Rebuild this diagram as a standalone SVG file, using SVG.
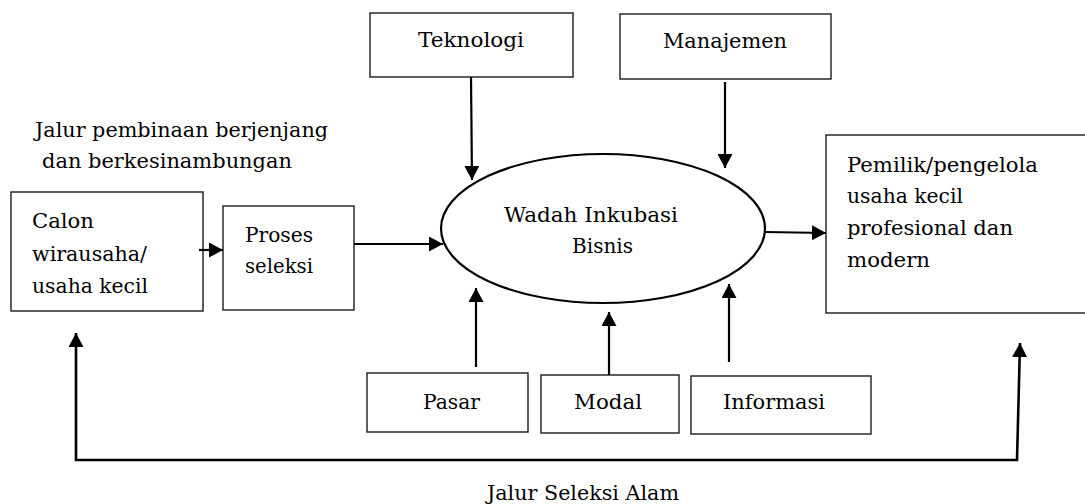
<svg xmlns="http://www.w3.org/2000/svg" width="1085" height="504" viewBox="0 0 1085 504">
<defs>
<marker id="ah" markerUnits="userSpaceOnUse" markerWidth="15" markerHeight="15" refX="14" refY="7.5" orient="auto-start-reverse">
<path d="M0,0 L14,7.5 L0,15 z" fill="#000"/>
</marker>
<style>
.box{fill:#fff;stroke:#1a1a1a;stroke-width:1.4}
.ell{fill:#fff;stroke:#000;stroke-width:2.2}
.t{font-family:"DejaVu Serif","Liberation Serif",serif;font-size:20px;fill:#000}
.c{fill:none;stroke:#000;stroke-width:2.2;marker-end:url(#ah)}
</style>
</defs>
<rect width="1085" height="504" fill="#fff"/>
<text class="t" x="35" y="137" textLength="293" lengthAdjust="spacingAndGlyphs">Jalur pembinaan berjenjang</text>
<text class="t" x="42" y="168" textLength="250" lengthAdjust="spacingAndGlyphs">dan berkesinambungan</text>
<g id="calon">
<rect class="box" x="11" y="192" width="192" height="119"/>
<text class="t" x="32" y="228" textLength="62" lengthAdjust="spacingAndGlyphs">Calon</text>
<text class="t" x="32" y="261" textLength="115" lengthAdjust="spacingAndGlyphs">wirausaha/</text>
<text class="t" x="32" y="293" textLength="116" lengthAdjust="spacingAndGlyphs">usaha kecil</text>
</g>
<g id="proses">
<rect class="box" x="223" y="206" width="131" height="104"/>
<text class="t" x="245" y="242" textLength="68" lengthAdjust="spacingAndGlyphs">Proses</text>
<text class="t" x="245" y="273" textLength="68" lengthAdjust="spacingAndGlyphs">seleksi</text>
</g>
<g id="teknologi">
<rect class="box" x="370" y="13" width="203" height="64"/>
<text class="t" x="418" y="47" textLength="106" lengthAdjust="spacingAndGlyphs">Teknologi</text>
</g>
<g id="manajemen">
<rect class="box" x="620" y="14" width="211" height="65"/>
<text class="t" x="663" y="48" textLength="124" lengthAdjust="spacingAndGlyphs">Manajemen</text>
</g>
<g id="wadah">
<ellipse class="ell" cx="603" cy="228.5" rx="162" ry="74.5"/>
<text class="t" x="504" y="222" textLength="174" lengthAdjust="spacingAndGlyphs">Wadah Inkubasi</text>
<text class="t" x="572" y="253" textLength="61" lengthAdjust="spacingAndGlyphs">Bisnis</text>
</g>
<g id="pemilik">
<rect class="box" x="826" y="135" width="264" height="178"/>
<text class="t" x="847" y="172" textLength="191" lengthAdjust="spacingAndGlyphs">Pemilik/pengelola</text>
<text class="t" x="847" y="203" textLength="116" lengthAdjust="spacingAndGlyphs">usaha kecil</text>
<text class="t" x="847" y="235" textLength="166" lengthAdjust="spacingAndGlyphs">profesional dan</text>
<text class="t" x="847" y="267" textLength="83" lengthAdjust="spacingAndGlyphs">modern</text>
</g>
<g id="pasar">
<rect class="box" x="367" y="373" width="161" height="59"/>
<text class="t" x="423" y="409" textLength="57" lengthAdjust="spacingAndGlyphs">Pasar</text>
</g>
<g id="modal">
<rect class="box" x="541" y="375" width="138" height="58"/>
<text class="t" x="574" y="409" textLength="68" lengthAdjust="spacingAndGlyphs">Modal</text>
</g>
<g id="informasi">
<rect class="box" x="691" y="376" width="180" height="58"/>
<text class="t" x="723" y="409" textLength="102" lengthAdjust="spacingAndGlyphs">Informasi</text>
</g>
<g id="connectors">
<path class="c" d="M199,250 L223,250"/>
<path class="c" d="M354,244 L443,244"/>
<path class="c" d="M471,77 L472,180"/>
<path class="c" d="M725,82 L725,168"/>
<path class="c" d="M765,232 L826,233"/>
<path class="c" d="M476,367 L476,288"/>
<path class="c" d="M609,375 L609,312"/>
<path class="c" d="M729,362 L729,284"/>
<path class="c" style="stroke-width:2.6;marker-start:url(#ah)" d="M76,333 L76,460 L1017,460 L1020,343"/>
</g>
<text class="t" x="487" y="500" textLength="192" lengthAdjust="spacingAndGlyphs">Jalur Seleksi Alam</text>
</svg>
